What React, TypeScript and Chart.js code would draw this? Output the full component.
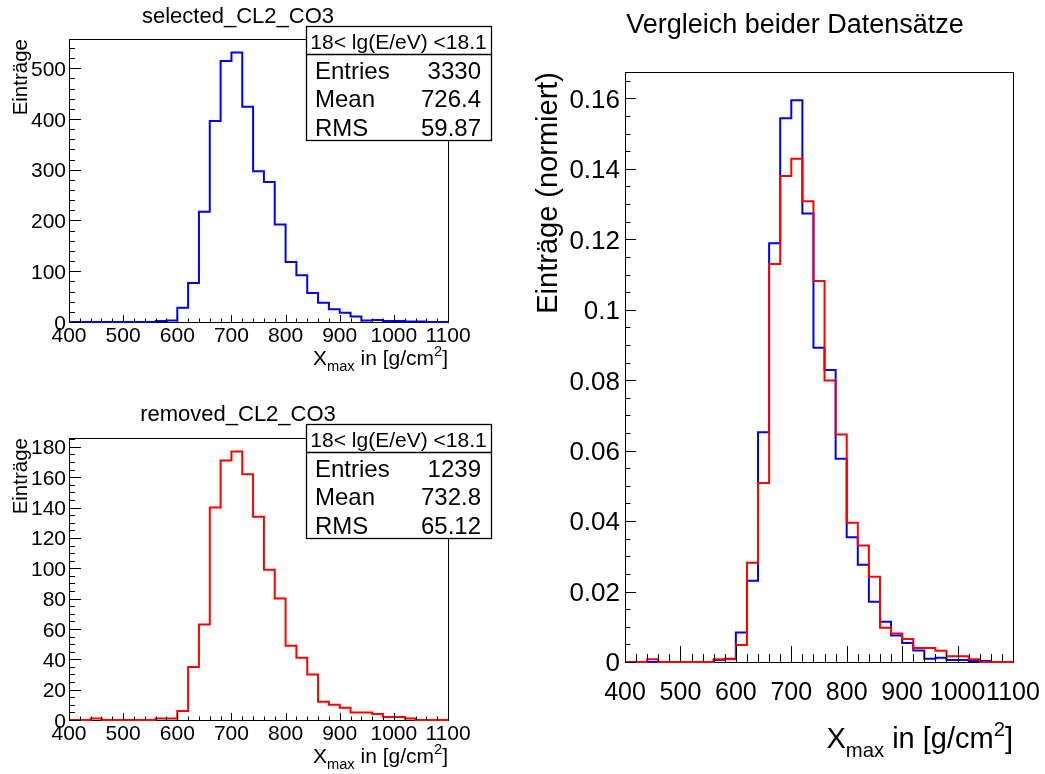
import React, { useEffect, useRef } from 'react';
import { Chart, registerables } from 'chart.js';

Chart.register(...registerables);

// ---------------- data ----------------
const binEdges = [
  400, 420, 440, 460, 480, 500, 520, 540, 560, 580, 600, 620, 640, 660, 680, 700, 720, 740,
  760, 780, 800, 820, 840, 860, 880, 900, 920, 940, 960, 980, 1000, 1020, 1040, 1060, 1080,
];
const upperEdge = 1100;

const selectedCounts = [
  0, 0, 0, 0, 0, 0, 0, 0, 2, 3, 28, 77, 217, 396, 514, 531, 424, 297,
  276, 192, 118, 92, 57, 38, 25, 18, 11, 3, 4, 2, 2, 1, 1, 0, 0,
];
const removedCounts = [
  0, 0, 1, 0, 0, 0, 0, 0, 1, 1, 6, 35, 63, 140, 171, 177, 162, 134,
  99, 80, 49, 41, 30, 12, 10, 8, 5, 5, 4, 2, 2, 1, 0, 0, 0,
];
const selectedNorm = [
  0, 0, 0, 0, 0, 0, 0, 0, 0.0006, 0.0009, 0.0084, 0.0231, 0.0652, 0.1189, 0.1544, 0.1595, 0.1273, 0.0892,
  0.0829, 0.0577, 0.0354, 0.0276, 0.0171, 0.0114, 0.0075, 0.0054, 0.0033, 0.0009, 0.0012, 0.0006, 0.0006, 0.0003, 0.0003, 0, 0,
];
const removedNorm = [
  0, 0, 0.0008, 0, 0, 0, 0, 0, 0.0008, 0.0008, 0.0048, 0.0282, 0.0508, 0.113, 0.138, 0.1429, 0.1308, 0.1082,
  0.0799, 0.0646, 0.0395, 0.0331, 0.0242, 0.0097, 0.0081, 0.0065, 0.004, 0.004, 0.0032, 0.0016, 0.0016, 0.0008, 0, 0, 0,
];

const xTickLabels = ['400', '500', '600', '700', '800', '900', '1000', '1100'];
const selYTickLabels = ['0', '100', '200', '300', '400', '500'];
const remYTickLabels = ['0', '20', '40', '60', '80', '100', '120', '140', '160', '180'];
const cmpYTickLabels = ['0', '0.02', '0.04', '0.06', '0.08', '0.1', '0.12', '0.14', '0.16'];

const statsHeader = '18< lg(E/eV) <18.1';
const statsNames = ['Entries', 'Mean', 'RMS'];
const selectedStats = ['3330', '726.4', '59.87'];
const removedStats = ['1239', '732.8', '65.12'];

// ---------------- helpers ----------------
const FONT = '"Liberation Sans", Arial, Helvetica, sans-serif';
const W = 1045;
const H = 774;

function histPoints(values: number[]) {
  const pts = binEdges.map((e, i) => ({ x: e, y: values[i] }));
  pts.push({ x: upperEdge, y: values[values.length - 1] });
  return pts;
}

function text(ctx: CanvasRenderingContext2D, s: string, x: number, y: number, size: number, align: CanvasTextAlign = 'left') {
  ctx.font = `${size}px ${FONT}`;
  ctx.textAlign = align;
  ctx.textBaseline = 'alphabetic';
  ctx.fillText(s, x, y);
}

function drawXmaxTitle(ctx: CanvasRenderingContext2D, right: number, baseline: number, size: number) {
  const small = size * 0.7;
  const parts = [
    { t: 'X', s: size, dy: 0 },
    { t: 'max', s: small, dy: 0.3 * size },
    { t: ' in [g/cm', s: size, dy: 0 },
    { t: '2', s: small, dy: -0.42 * size },
    { t: ']', s: size, dy: 0 },
  ];
  let total = 0;
  const widths = parts.map((p) => {
    ctx.font = `${p.s}px ${FONT}`;
    const w = ctx.measureText(p.t).width;
    total += w;
    return w;
  });
  let x = right - total;
  parts.forEach((p, i) => {
    text(ctx, p.t, x, baseline + p.dy, p.s, 'left');
    x += widths[i];
  });
}

type StatsCfg = {
  left: number; right: number; top: number; bottom: number; divider: number;
  headerBaseline: number; headerSize: number;
  rowBaselines: number[]; rowSize: number; nameX: number; valueRight: number;
  values: string[];
};

type PanelCfg = {
  padding: { left: number; top: number; right: number; bottom: number };
  yMax: number;
  title: string; titleX: number; titleBaseline: number; titleSize: number;
  yTitle: string; yTitleX: number; yTitleSize: number;
  xTitleBaseline: number; xTitleSize: number;
  xLabelSize: number; xLabelBaseline: number;
  yLabels: string[]; yLabelSize: number; yLabelGap: number;
  yMinorStep: number;
  xMajorLen: number; xMinorLen: number; yMajorLen: number; yMinorLen: number;
  stats?: StatsCfg;
};

function rootPlugin(cfg: PanelCfg) {
  return {
    id: 'rootStyle',
    beforeDatasetsDraw(chart: any) {
      const { ctx, chartArea: a } = chart;
      ctx.save();
      ctx.strokeStyle = '#000';
      ctx.lineWidth = 1;
      ctx.strokeRect(Math.round(a.left) + 0.5, Math.round(a.top) + 0.5, Math.round(a.right - a.left), Math.round(a.bottom - a.top));
      ctx.restore();
    },
    afterDatasetsDraw(chart: any) {
      const { ctx, chartArea: a } = chart;
      const xs = chart.scales.x;
      const ys = chart.scales.y;
      ctx.save();
      ctx.strokeStyle = '#000';
      ctx.fillStyle = '#000';
      ctx.lineWidth = 1;

      // x ticks
      const xMajorVals = xTickLabels.map(Number);
      ctx.beginPath();
      for (let v = 400; v <= 1100; v += 20) {
        const px = Math.round(xs.getPixelForValue(v)) + 0.5;
        const len = xMajorVals.includes(v) ? cfg.xMajorLen : cfg.xMinorLen;
        ctx.moveTo(px, a.bottom);
        ctx.lineTo(px, a.bottom - len);
      }
      // y ticks
      const yMajorVals = cfg.yLabels.map(Number);
      const nMinor = Math.floor(cfg.yMax / cfg.yMinorStep + 1e-9);
      for (let i = 0; i <= nMinor; i++) {
        const v = i * cfg.yMinorStep;
        const py = Math.round(ys.getPixelForValue(v)) + 0.5;
        const isMajor = yMajorVals.some((m) => Math.abs(m - v) < cfg.yMinorStep * 1e-3);
        const len = isMajor ? cfg.yMajorLen : cfg.yMinorLen;
        ctx.moveTo(a.left, py);
        ctx.lineTo(a.left + len, py);
      }
      ctx.stroke();

      // x labels
      xTickLabels.forEach((lab) => {
        text(ctx, lab, xs.getPixelForValue(Number(lab)), cfg.xLabelBaseline, cfg.xLabelSize, 'center');
      });
      // y labels
      cfg.yLabels.forEach((lab) => {
        const py = ys.getPixelForValue(Number(lab));
        text(ctx, lab, a.left - cfg.yLabelGap, py + 0.36 * cfg.yLabelSize, cfg.yLabelSize, 'right');
      });

      // title
      text(ctx, cfg.title, cfg.titleX, cfg.titleBaseline, cfg.titleSize, 'center');

      // y title (rotated, aligned with top of axis)
      ctx.save();
      ctx.translate(cfg.yTitleX, a.top);
      ctx.rotate(-Math.PI / 2);
      text(ctx, cfg.yTitle, 0, 0, cfg.yTitleSize, 'right');
      ctx.restore();

      // x title
      drawXmaxTitle(ctx, a.right, cfg.xTitleBaseline, cfg.xTitleSize);

      // stats box
      const s = cfg.stats;
      if (s) {
        ctx.fillStyle = '#fff';
        ctx.fillRect(s.left, s.top, s.right - s.left, s.bottom - s.top);
        ctx.strokeStyle = '#000';
        ctx.lineWidth = 1.3;
        ctx.strokeRect(s.left + 0.5, s.top + 0.5, s.right - s.left, s.bottom - s.top);
        ctx.beginPath();
        ctx.moveTo(s.left, s.divider + 0.5);
        ctx.lineTo(s.right, s.divider + 0.5);
        ctx.stroke();
        ctx.fillStyle = '#000';
        text(ctx, statsHeader, (s.left + s.right) / 2, s.headerBaseline, s.headerSize, 'center');
        statsNames.forEach((n, i) => {
          text(ctx, n, s.nameX, s.rowBaselines[i], s.rowSize, 'left');
          text(ctx, s.values[i], s.valueRight, s.rowBaselines[i], s.rowSize, 'right');
        });
      }
      ctx.restore();
    },
  };
}

function statsFor(dy: number, values: string[]): StatsCfg {
  return {
    left: 306, right: 491, top: 26 + dy, bottom: 140 + dy, divider: 54 + dy,
    headerBaseline: 48.5 + dy, headerSize: 21,
    rowBaselines: [78.5 + dy, 107 + dy, 135.5 + dy], rowSize: 24,
    nameX: 315, valueRight: 481,
    values,
  };
}

const topLeftCfg: PanelCfg = {
  padding: { left: 69, top: 39, right: W - 448, bottom: H - 322 },
  yMax: 557.55,
  title: 'selected_CL2_CO3', titleX: 238, titleBaseline: 23, titleSize: 22,
  yTitle: 'Einträge', yTitleX: 27, yTitleSize: 20.5,
  xTitleBaseline: 365, xTitleSize: 21,
  xLabelSize: 21, xLabelBaseline: 342,
  yLabels: selYTickLabels, yLabelSize: 21, yLabelGap: 3,
  yMinorStep: 20,
  xMajorLen: 7, xMinorLen: 3.5, yMajorLen: 12, yMinorLen: 6,
  stats: statsFor(0, selectedStats),
};

const bottomLeftCfg: PanelCfg = {
  padding: { left: 69, top: 438, right: W - 448, bottom: H - 720 },
  yMax: 185.85,
  title: 'removed_CL2_CO3', titleX: 238, titleBaseline: 421, titleSize: 22,
  yTitle: 'Einträge', yTitleX: 27, yTitleSize: 20.5,
  xTitleBaseline: 763, xTitleSize: 21,
  xLabelSize: 21, xLabelBaseline: 740,
  yLabels: remYTickLabels, yLabelSize: 21, yLabelGap: 3,
  yMinorStep: 5,
  xMajorLen: 7, xMinorLen: 3.5, yMajorLen: 12, yMinorLen: 6,
  stats: statsFor(398, removedStats),
};

const rightCfg: PanelCfg = {
  padding: { left: 625, top: 72, right: W - 1013, bottom: H - 662 },
  yMax: 0.1675,
  title: 'Vergleich beider Datensätze', titleX: 795, titleBaseline: 33, titleSize: 27,
  yTitle: 'Einträge (normiert)', yTitleX: 557, yTitleSize: 29,
  xTitleBaseline: 748, xTitleSize: 29,
  xLabelSize: 25, xLabelBaseline: 700,
  yLabels: cmpYTickLabels, yLabelSize: 26, yLabelGap: 5,
  yMinorStep: 0.005,
  xMajorLen: 16, xMinorLen: 8, yMajorLen: 11, yMinorLen: 5.5,
};

type DS = { values: number[]; color: string; order: number };

function Panel({ cfg, series }: { cfg: PanelCfg; series: DS[] }) {
  const ref = useRef<HTMLCanvasElement>(null);
  useEffect(() => {
    const canvas = ref.current;
    if (!canvas) return;
    const chart = new Chart(canvas, {
      type: 'line',
      data: {
        datasets: series.map((s) => ({
          data: histPoints(s.values),
          borderColor: s.color,
          backgroundColor: s.color,
          borderWidth: 2,
          stepped: true,
          fill: false,
          pointRadius: 0,
          tension: 0,
          clip: false,
          order: s.order,
        })),
      },
      options: {
        animation: false,
        responsive: false,
        maintainAspectRatio: false,
        devicePixelRatio: 1,
        events: [],
        layout: { padding: cfg.padding },
        plugins: { legend: { display: false }, tooltip: { enabled: false }, title: { display: false } },
        scales: {
          x: { type: 'linear', min: 400, max: 1100, display: false },
          y: { type: 'linear', min: 0, max: cfg.yMax, display: false },
        },
      },
      plugins: [rootPlugin(cfg)],
    } as any);
    return () => chart.destroy();
  }, []);
  return <canvas ref={ref} width={W} height={H} style={{ position: 'absolute', left: 0, top: 0 }} />;
}

export default function App() {
  return (
    <div style={{ position: 'absolute', left: 0, top: 0, width: W, height: H, background: '#fff' }}>
      <Panel cfg={topLeftCfg} series={[{ values: selectedCounts, color: '#0000ff', order: 0 }]} />
      <Panel cfg={bottomLeftCfg} series={[{ values: removedCounts, color: '#ff0000', order: 0 }]} />
      <Panel
        cfg={rightCfg}
        series={[
          { values: selectedNorm, color: '#0000ff', order: 1 },
          { values: removedNorm, color: '#ff0000', order: 0 },
        ]}
      />
    </div>
  );
}
